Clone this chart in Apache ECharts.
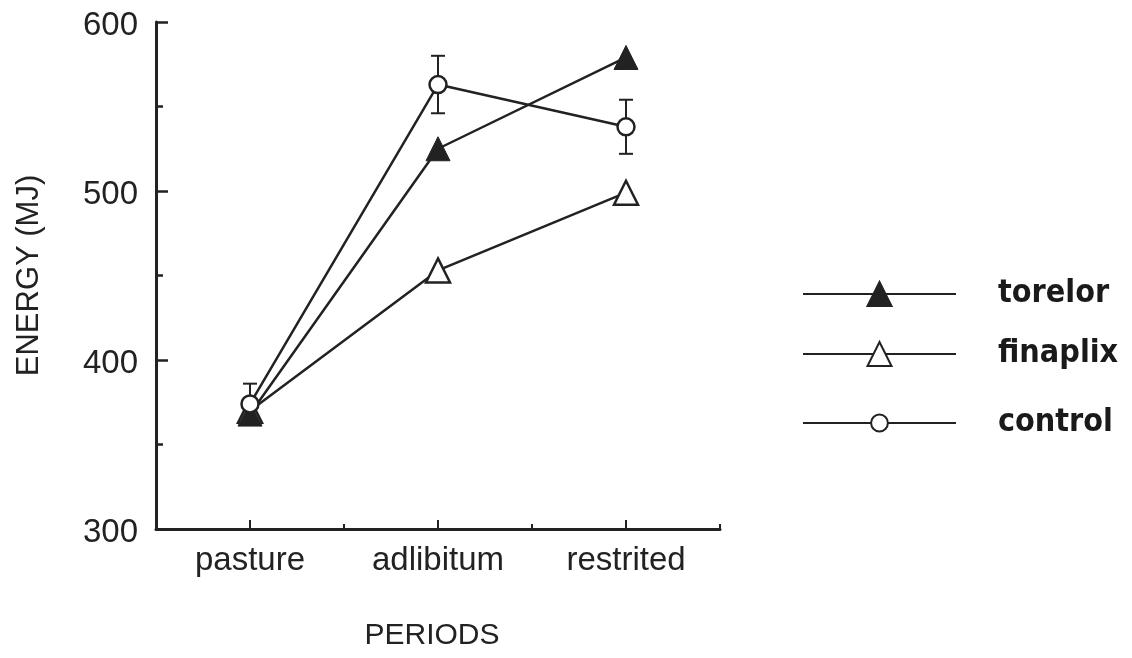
<!DOCTYPE html>
<html>
<head>
<meta charset="utf-8">
<script src="https://cdn.jsdelivr.net/npm/echarts@6/dist/echarts.min.js"></script>
<style>
  html, body { margin: 0; padding: 0; background: #fff; }
  #chart { width: 1132px; height: 658px; }
</style>
</head>
<body>
<div id="chart"></div>
<script>
// Feeding periods on the category axis
const periods = ['pasture', 'adlibitum', 'restrited'];
// Energy (MJ) per treatment
const torelor = [368, 525, 579];
const finaplix = [370, 453, 499];
const control = [374, 563, 538];
// Standard error for the control group
const controlErr = [12, 17, 16];
// Value axis ticks
const yTicks = [300, 400, 500, 600];

const ink = '#222';
const sans = "'Liberation Sans', Arial, Helvetica, sans-serif";
const condensed = "'DejaVu Sans Condensed', 'Liberation Sans Narrow', 'Arial Narrow', sans-serif";

const errData = periods.map((p, i) => [i, control[i] - controlErr[i], control[i] + controlErr[i]]);

const chart = echarts.init(document.getElementById('chart'));

const lineSeries = (name, data, symbol, symbolSize, itemStyle) => ({
  name, type: 'line', data, symbol, symbolSize,
  xAxisIndex: 0, yAxisIndex: 0, z: 3,
  lineStyle: { color: ink, width: 2.5 },
  itemStyle,
  emphasis: { disabled: true },
  animation: false
});

const legendText = (h) => ({
  fontFamily: condensed, fontWeight: 'bold', fontSize: 32, color: '#1a1a1a',
  lineHeight: h, padding: [0, 0, 0, 37]
});

chart.setOption({
  backgroundColor: '#fff',
  animation: false,
  grid: { left: 156, right: 412, top: 22, bottom: 129, containLabel: false },
  xAxis: [{
    type: 'category',
    data: periods,
    position: 'bottom',
    boundaryGap: true,
    name: 'PERIODS',
    nameLocation: 'middle',
    nameGap: 92,
    nameTextStyle: { fontFamily: sans, fontSize: 30, color: ink, padding: [0, 12, 0, 0] },
    axisLine: { lineStyle: { color: ink, width: 3 } },
    axisTick: { show: true, inside: true, alignWithLabel: true, length: 9, lineStyle: { color: ink, width: 2 } },
    axisLabel: { fontFamily: sans, fontSize: 33, color: ink, margin: 15 },
    splitLine: { show: false }
  }, {
    // second pass over the same axis: short ticks on the category boundaries
    type: 'category',
    data: periods,
    position: 'bottom',
    boundaryGap: true,
    axisLine: { show: false },
    axisTick: { show: true, inside: true, alignWithLabel: false, length: 5, lineStyle: { color: ink, width: 2 } },
    axisLabel: { show: false },
    splitLine: { show: false }
  }],
  yAxis: {
    type: 'value',
    min: yTicks[0],
    max: yTicks[yTicks.length - 1],
    interval: 100,
    name: 'ENERGY (MJ)',
    nameLocation: 'middle',
    nameGap: 111,
    nameTextStyle: { fontFamily: sans, fontSize: 31, color: ink },
    axisLine: { show: true, lineStyle: { color: ink, width: 3 } },
    axisTick: { show: true, inside: true, length: 12, lineStyle: { color: ink, width: 2.5 } },
    minorTick: { show: true, splitNumber: 2, length: 7, lineStyle: { color: ink, width: 2.5 } },
    axisLabel: {
      margin: 18,
      formatter: '{v|{value}}',
      rich: { v: { fontFamily: sans, fontSize: 33, color: ink, padding: [8, 0, 0, 0] } }
    },
    splitLine: { show: false }
  },
  legend: [{
    data: ['torelor', 'finaplix'],
    orient: 'vertical',
    left: 802,
    top: 278,
    padding: 0,
    itemWidth: 153,
    itemHeight: 30,
    itemGap: 28,
    selectedMode: false,
    textStyle: legendText(30)
  }, {
    data: ['control'],
    orient: 'vertical',
    left: 802,
    top: 407,
    padding: 0,
    itemWidth: 153,
    itemHeight: 21,
    selectedMode: false,
    textStyle: legendText(21)
  }],
  series: [
    {
      name: 'control SE',
      type: 'custom',
      xAxisIndex: 0, yAxisIndex: 0, z: 1,
      data: errData,
      silent: true,
      renderItem: (params, api) => {
        const lo = api.coord([api.value(0), api.value(1)]);
        const hi = api.coord([api.value(0), api.value(2)]);
        const half = 7;
        const style = { stroke: ink, lineWidth: 2 };
        return {
          type: 'group',
          children: [
            { type: 'line', shape: { x1: hi[0], y1: hi[1], x2: lo[0], y2: lo[1] }, style },
            { type: 'line', shape: { x1: hi[0] - half, y1: hi[1], x2: hi[0] + half, y2: hi[1] }, style },
            { type: 'line', shape: { x1: lo[0] - half, y1: lo[1], x2: lo[0] + half, y2: lo[1] }, style }
          ]
        };
      }
    },
    lineSeries('finaplix', finaplix, 'triangle', 24, { color: '#fff', borderColor: ink, borderWidth: 2.5 }),
    lineSeries('torelor', torelor, 'triangle', 24, { color: ink, borderColor: ink, borderWidth: 1 }),
    lineSeries('control', control, 'circle', 17, { color: '#fff', borderColor: ink, borderWidth: 2.5 })
  ]
});
</script>
</body>
</html>
